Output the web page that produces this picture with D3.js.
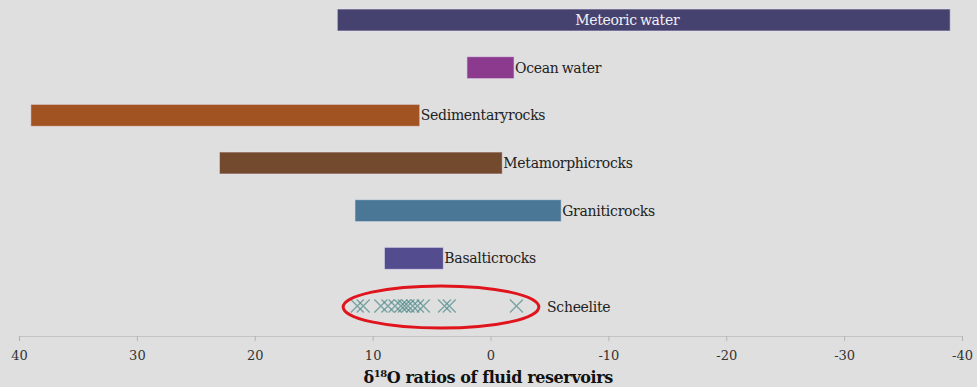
<!DOCTYPE html>
<html>
<head>
<meta charset="utf-8">
<script src="https://cdn.jsdelivr.net/npm/d3@7/dist/d3.min.js"></script>
<style>
  html, body { margin: 0; padding: 0; background: #dfdfdf; }
  svg { display: block; }
  text { font-family: "DejaVu Serif", "Liberation Serif", serif; }
</style>
</head>
<body>
<svg id="chart" width="977" height="387"></svg>
<script>
// δ18O ranges of fluid reservoirs (per mil), high value listed first
const reservoirs = ["Meteoric water", "Ocean water", "Sedimentary rocks", "Metamorphic rocks",
                    "Granitic rocks", "Basaltic rocks", "Scheelite"];
const rangeHigh = [13, 2, 39, 23, 11.5, 9];
const rangeLow  = [-39, -2, 6, -1, -6, 4];
const barColors = ["#46426f", "#8c3a8d", "#a15422", "#744a2f", "#4a7796", "#534c8f"];

// measured scheelite δ18O values
const scheelite = [11.3, 10.8, 9.3, 8.7, 8.1, 7.6, 7.3, 7.0, 6.6, 6.2, 5.7, 3.9, 3.5, -2.2];

const tickValues = [40, 30, 20, 10, 0, -10, -20, -30, -40];
const axisTitle = ["δ", "18", "O ratios of fluid reservoirs"];

const svg = d3.select("#chart");
const FONT = "'DejaVu Serif', 'Liberation Serif', serif";

// reversed axis: heavier values on the left
const x = d3.scaleLinear().domain([40, -40]).range([19, 962]);
const y = d3.scalePoint().domain(reservoirs).range([20, 306]);
const barH = 22;

const bars = reservoirs.slice(0, rangeHigh.length).map((name, i) => ({
  name, hi: rangeHigh[i], lo: rangeLow[i], color: barColors[i]
}));

svg.append("g").selectAll("rect")
  .data(bars)
  .join("rect")
  .attr("x", d => x(d.hi))
  .attr("width", d => x(d.lo) - x(d.hi))
  .attr("y", d => y(d.name) - barH / 2)
  .attr("height", barH)
  .attr("fill", d => d.color)
  .attr("stroke", "#e8e6f2")
  .attr("stroke-opacity", 0.6)
  .attr("stroke-width", 1);

// labels: meteoric water sits inside its bar, the rest follow the bar end
svg.append("g").selectAll("text")
  .data(bars)
  .join("text")
  .attr("x", d => d.name === "Meteoric water" ? x(-11.6) : x(d.lo) + 1)
  .attr("y", d => y(d.name))
  .attr("dy", "0.35em")
  .attr("text-anchor", d => d.name === "Meteoric water" ? "middle" : "start")
  .attr("fill", d => d.name === "Meteoric water" ? "#f2f0f6" : "#222")
  .attr("font-size", 14)
  .attr("letter-spacing", "-0.3px")
  .attr("word-spacing", d => d.name.endsWith("rocks") ? "-4px" : "-1px")
  .text(d => d.name);

// scheelite crosses
const s = 6.5;
const ys = y("Scheelite");
svg.append("g")
  .attr("stroke", "#4f8a8a")
  .attr("stroke-opacity", 0.7)
  .attr("stroke-width", 1.4)
  .selectAll("path")
  .data(scheelite)
  .join("path")
  .attr("d", v => `M${x(v) - s},${ys - s}L${x(v) + s},${ys + s}M${x(v) - s},${ys + s}L${x(v) + s},${ys - s}`)
  .attr("fill", "none");

svg.append("text")
  .attr("x", x(-4.8))
  .attr("y", ys + 1)
  .attr("dy", "0.35em")
  .attr("fill", "#222")
  .attr("font-size", 14)
  .attr("letter-spacing", "-0.3px")
  .text("Scheelite");

// red ring around the scheelite cluster
svg.append("ellipse")
  .attr("cx", x(4.2))
  .attr("cy", ys + 1)
  .attr("rx", x(-4.1) - x(4.2))
  .attr("ry", 21)
  .attr("fill", "none")
  .attr("stroke", "#e0141c")
  .attr("stroke-width", 3);

// x axis
const axisY = 336;
const axis = svg.append("g")
  .attr("transform", `translate(0,${axisY})`)
  .call(d3.axisBottom(x).tickValues(tickValues).tickFormat(d3.format("d")).tickSize(5).tickPadding(10));
axis.attr("font-family", FONT);
axis.select(".domain").attr("stroke", "#c4c4c4").attr("stroke-width", 1.2);
axis.selectAll(".tick line").attr("stroke", "#b4b4b4");
axis.selectAll(".tick text")
  .attr("fill", "#333")
  .attr("font-size", 13)
  .text(d => d < 0 ? "-" + Math.abs(d) : d);

const title = svg.append("text")
  .attr("x", x(0.2))
  .attr("y", 383)
  .attr("text-anchor", "middle")
  .attr("font-size", 16)
  .attr("font-weight", "bold")
  .attr("letter-spacing", "-0.4px")
  .attr("fill", "#111");
title.append("tspan").text(axisTitle[0]);
title.append("tspan").attr("font-size", 10).attr("dy", -6).text(axisTitle[1]);
title.append("tspan").attr("dy", 6).text(axisTitle[2]);
</script>
</body>
</html>
